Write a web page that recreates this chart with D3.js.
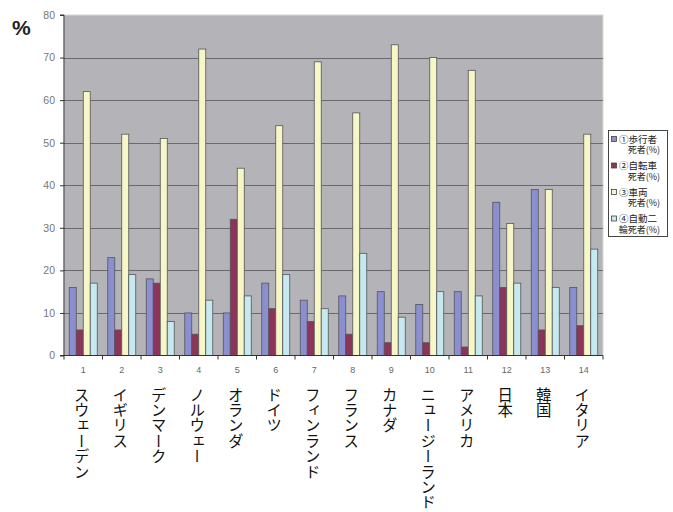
<!DOCTYPE html>
<html><head><meta charset="utf-8">
<script src="https://cdn.jsdelivr.net/npm/d3@7"></script>
<style>
html,body{margin:0;padding:0;background:#fff;}
svg{display:block;}
</style></head>
<body>
<svg id="chart" width="673" height="512"></svg>
<script>
// Country index numbers and names
const categories = ["1","2","3","4","5","6","7","8","9","10","11","12","13","14"];
const countryNames = ["スウェーデン","イギリス","デンマーク","ノルウェー","オランダ","ドイツ","フィンランド","フランス","カナダ","ニュージーランド","アメリカ","日本","韓国","イタリア"];

// Share of traffic deaths by road user type (%)
const pedestrian = [16,23,18,10,10,17,13,14,15,12,15,36,39,16];
const cyclist    = [6,6,17,5,32,11,8,5,3,3,2,16,6,7];
const carOccupant= [62,52,51,72,44,54,69,57,73,70,67,31,39,52];
const motorcycle = [17,19,8,13,14,19,11,24,9,15,14,17,16,25];

const seriesNames = [["①歩行者","死者(%)"],["②自転車","死者(%)"],["③車両","死者(%)"],["④自動二","輪死者(%)"]];
const yTicks = [0,10,20,30,40,50,60,70,80];

const colors = ["#8b8fcf","#8c3459","#f6f6c6","#c6e9ef"];
const series = [pedestrian, cyclist, carOccupant, motorcycle];

const svg = d3.select("#chart");
const m = {left:64, right:603, top:15, bottom:355.5};

const x = d3.scaleBand().domain(categories).range([m.left, m.right]).paddingInner(0).paddingOuter(0);
const y = d3.scaleLinear().domain([0,80]).range([m.bottom, m.top]);

// plot background
svg.append("rect").attr("x",m.left).attr("y",m.top).attr("width",m.right-m.left).attr("height",m.bottom-m.top)
  .attr("fill","#b3b3b8").attr("stroke","#d8d8da").attr("stroke-width",1);

// gridlines
svg.append("g").selectAll("line").data(yTicks.filter(d=>d>0 && d<80)).join("line")
  .attr("x1",m.left).attr("x2",m.right)
  .attr("y1",d=>Math.round(y(d))+0.5).attr("y2",d=>Math.round(y(d))+0.5)
  .attr("stroke","#6a6a6e").attr("stroke-width",1);

// bars: four per group, 150% gap between groups
const bw = x.bandwidth()/5.5;
series.forEach((vals,si)=>{
  svg.append("g").selectAll("rect").data(vals).join("rect")
    .attr("x",(d,i)=>x(categories[i]) + 0.75*bw + si*bw)
    .attr("y",d=>y(d))
    .attr("width",bw)
    .attr("height",d=>y(0)-y(d))
    .attr("fill",colors[si])
    .attr("stroke","#55555a").attr("stroke-width",0.8);
});

// y axis
const yAxis = d3.axisLeft(y).tickValues(yTicks).tickSize(4).tickPadding(5);
const gy = svg.append("g").attr("transform",`translate(${m.left},0)`).call(yAxis);
gy.select(".domain").attr("stroke","#333").attr("d",`M-4,${m.top}H0V${m.bottom}H-4`);
gy.selectAll(".tick line").attr("stroke","#333");
gy.selectAll(".tick text").attr("fill","#777").attr("font-family","Liberation Sans, Arial, sans-serif").attr("font-size",10.5);

// x axis
const xAxis = d3.axisBottom(x).tickSize(0).tickPadding(11);
const gx = svg.append("g").attr("transform",`translate(0,${m.bottom})`).call(xAxis);
gx.select(".domain").attr("stroke","#333").attr("d",`M${m.left},0H${m.right}`);
gx.selectAll(".tick text").attr("fill","#666").attr("font-family","Liberation Sans, Arial, sans-serif").attr("font-size",9);
// boundary tick marks
gx.append("g").selectAll("line").data(d3.range(categories.length+1)).join("line")
  .attr("x1",i=>m.left+i*x.bandwidth()).attr("x2",i=>m.left+i*x.bandwidth())
  .attr("y1",0).attr("y2",4).attr("stroke","#333");

// country names, vertical
svg.append("g").selectAll("text").data(countryNames).join("text")
  .attr("x",(d,i)=>x(categories[i])+x.bandwidth()/2-1.5)
  .attr("y",387)
  .style("writing-mode","vertical-rl")
  .style("text-orientation","upright")
  .attr("font-family","Noto Sans CJK JP")
  .attr("font-size",15.4)
  .attr("fill","#111")
  .text(d=>d);

// unit label
svg.append("text").attr("x",12).attr("y",35).attr("font-family","Liberation Sans, Arial, sans-serif")
  .attr("font-weight","bold").attr("font-size",21).attr("fill","#222").text("%");

// legend: each entry is one text with two lines
const lg = svg.append("g");
lg.append("rect").attr("x",608.5).attr("y",130.5).attr("width",59).attr("height",106)
  .attr("fill","#fff").attr("stroke","#444");
seriesNames.forEach((lines,i)=>{
  const yy = 139 + i*26.5;
  lg.append("rect").attr("x",611.5).attr("y",yy-2.5).attr("width",5).attr("height",5)
    .attr("fill",colors[i]).attr("stroke","#444").attr("stroke-width",0.8);
  const t = lg.append("text").attr("font-family","Noto Sans CJK JP").attr("fill","#222");
  t.append("tspan").attr("x",619).attr("y",yy+3.5).attr("font-size",9.5).text(lines[0]);
  t.append("tspan").attr("x",660).attr("y",yy+14).attr("text-anchor","end").attr("font-size",9).text(lines[1]);
});
</script>
</body></html>
